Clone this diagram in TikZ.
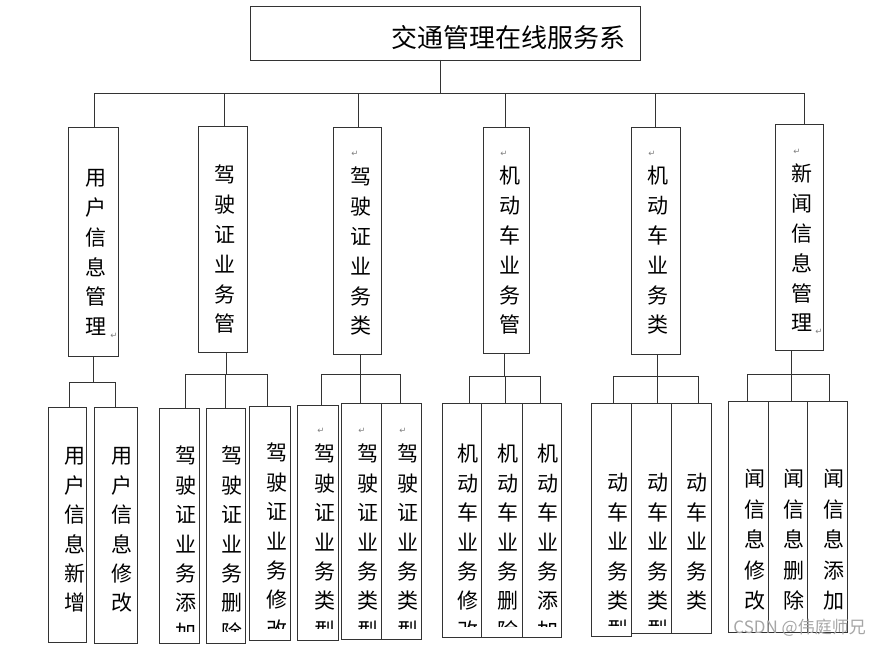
\documentclass[tikz,border=0pt]{standalone}
\usepackage{fontspec}
\newfontfamily\cjk{Noto Sans CJK SC}
\newfontfamily\djv{DejaVu Sans}
\tikzset{
 bx/.style={draw=black!80, line width=0.9pt, inner sep=0pt, outer sep=0pt},
 ch/.style={font=\cjk\fontsize{21}{21}\selectfont, inner sep=0pt, text height=0.83em, text depth=0.07em},
 ttl/.style={font=\cjk\fontsize{26}{26}\selectfont, inner sep=0pt, anchor=west},
 ret/.style={font=\djv\fontsize{8.5}{8.5}\selectfont, text=black!50, inner sep=0pt},
 ln/.style={draw=black!80, line width=0.9pt},
 wm/.style={font=\cjk\fontsize{17}{17}\selectfont, text=black!35, inner sep=0pt, anchor=east},
}
\newcommand\bx[5]{\node[bx, minimum width={#4-#2}, minimum height={#5-#3}] (#1) at ({(#2+#4)/2},{(#3+#5)/2}) {};}
\newcommand\vt[6]{%
 \begin{scope}
 \clip (0,0) rectangle (881,#6);
 \foreach \c [count=\i] in {#5} {\node[ch] (#1-\i) at (#2,{#3+(\i-1)*#4}) {\c};}
 \end{scope}}
\begin{document}
\begin{tikzpicture}[x=1pt,y=-1pt]
\useasboundingbox (0,0) rectangle (881,647);
% top
\bx{top}{250}{6}{640}{60}
\node[ttl] (title) at (391,38) {交通管理在线服务系};
% level 1 boxes
\bx{b1}{68}{127}{118}{356}
\bx{b2}{198}{126}{247}{352}
\bx{b3}{333}{127}{381}{354}
\bx{b4}{483}{127}{529}{353}
\bx{b5}{631}{127}{680}{354}
\bx{b6}{775}{124}{823}{350}
% level 2 boxes
\bx{c11}{48}{407}{86}{642}
\bx{c12}{94}{407}{137}{643}
\bx{c21}{159}{408}{199}{643}
\bx{c22}{206}{408}{245}{643}
\bx{c23}{249}{406}{290}{640}
\bx{c31}{297}{405}{338}{640}
\bx{c32}{341}{403}{381}{639}
\bx{c33}{381}{403}{421}{639}
\bx{c41}{442}{403}{481}{637}
\bx{c42}{481}{403}{522}{637}
\bx{c43}{522}{403}{561}{637}
\bx{c51}{591}{403}{631}{636}
\bx{c52}{631}{403}{671}{633}
\bx{c53}{671}{403}{711}{633}
\bx{c61}{728}{401}{768}{632}
\bx{c62}{768}{401}{807}{632}
\bx{c63}{807}{401}{847}{632}
% bus coordinates
\coordinate (g0) at (0,93);
\coordinate (g1) at (0,382);
\coordinate (g2) at (0,374);
\coordinate (g3) at (0,374);
\coordinate (g4) at (0,376);
\coordinate (g5) at (0,376);
\coordinate (g6) at (0,374);
% level 1 connectors
\draw[ln] ([xshift=-5pt]top.south) -- ([xshift=-5pt]top.south |- g0);
\draw[ln] ([xshift=1.5pt]b1.north) -- ([xshift=1.5pt]b1.north |- g0) -- ([xshift=5pt]b6.north |- g0) -- ([xshift=5pt]b6.north);
\draw[ln] ([xshift=1.5pt]b2.north) -- ([xshift=1.5pt]b2.north |- g0);
\draw[ln] ([xshift=1pt]b3.north) -- ([xshift=1pt]b3.north |- g0);
\draw[ln] ([xshift=-1pt]b4.north) -- ([xshift=-1pt]b4.north |- g0);
\draw[ln] (b5.north) -- (b5.north |- g0);
% group 1
\draw[ln] (b1.south) -- (b1.south |- g1);
\draw[ln] ([xshift=2pt]c11.north) -- ([xshift=2pt]c11.north |- g1) -- (c12.north |- g1) -- (c12.north);
% group 2
\draw[ln] ([xshift=3.5pt]b2.south) -- ([xshift=3.5pt]b2.south |- g2);
\draw[ln] ([xshift=6pt]c21.north) -- ([xshift=6pt]c21.north |- g2) -- ([xshift=-2.5pt]c23.north |- g2) -- ([xshift=-2.5pt]c23.north);
\draw[ln] (c22.north) -- (c22.north |- g2);
% group 3
\draw[ln] ([xshift=3pt]b3.south) -- ([xshift=3pt]b3.south |- g3);
\draw[ln] ([xshift=3.5pt]c31.north) -- ([xshift=3.5pt]c31.north |- g3) -- ([xshift=-1pt]c33.north |- g3) -- ([xshift=-1pt]c33.north);
\draw[ln] ([xshift=-1pt]c32.north) -- ([xshift=-1pt]c32.north |- g3);
% group 4
\draw[ln] ([xshift=-1.5pt]b4.south) -- ([xshift=-1.5pt]b4.south |- g4);
\draw[ln] ([xshift=7.5pt]c41.north) -- ([xshift=7.5pt]c41.north |- g4) -- ([xshift=-1.5pt]c43.north |- g4) -- ([xshift=-1.5pt]c43.north);
\draw[ln] ([xshift=3.5pt]c42.north) -- ([xshift=3.5pt]c42.north |- g4);
% group 5
\draw[ln] ([xshift=1.5pt]b5.south) -- ([xshift=1.5pt]b5.south |- g5);
\draw[ln] ([xshift=2pt]c51.north) -- ([xshift=2pt]c51.north |- g5) -- ([xshift=7pt]c53.north |- g5) -- ([xshift=7pt]c53.north);
\draw[ln] ([xshift=6pt]c52.north) -- ([xshift=6pt]c52.north |- g5);
% group 6
\draw[ln] ([xshift=-8pt]b6.south) -- ([xshift=-8pt]b6.south |- g6);
\draw[ln] ([xshift=-1pt]c61.north) -- ([xshift=-1pt]c61.north |- g6) -- ([xshift=2pt]c63.north |- g6) -- ([xshift=2pt]c63.north);
\draw[ln] ([xshift=3.5pt]c62.north) -- ([xshift=3.5pt]c62.north |- g6);
% level 1 texts
\vt{t1}{96}{182}{29.8}{用,户,信,息,管,理}{647}
\vt{t2}{225}{179}{29.8}{驾,驶,证,业,务,管}{647}
\vt{t3}{361}{181}{29.8}{驾,驶,证,业,务,类}{647}
\vt{t4}{510}{180}{29.8}{机,动,车,业,务,管}{647}
\vt{t5}{658}{180}{29.8}{机,动,车,业,务,类}{647}
\vt{t6}{802}{178}{29.8}{新,闻,信,息,管,理}{647}
\node[ret] (r1) at (114,336) {↵};
\node[ret] (r3) at (355,154) {↵};
\node[ret] (r4) at (504,154) {↵};
\node[ret] (r5) at (652,154) {↵};
\node[ret] (r6) at (797,152) {↵};
\node[ret] (r6b) at (819,332) {↵};
% level 2 texts
\vt{u11}{75}{460}{29.4}{用,户,信,息,新,增}{647}
\vt{u12}{122}{460}{29.4}{用,户,信,息,修,改}{647}
\vt{u21}{186}{460}{29.4}{驾,驶,证,业,务,添,加}{631}
\vt{u22}{232}{460}{29.4}{驾,驶,证,业,务,删,除}{631}
\vt{u23}{277}{457}{29.4}{驾,驶,证,业,务,修,改}{628}
\vt{u31}{325}{458}{29.4}{驾,驶,证,业,务,类,型}{628}
\vt{u32}{368}{458}{29.4}{驾,驶,证,业,务,类,型}{628}
\vt{u33}{408}{458}{29.4}{驾,驶,证,业,务,类,型}{628}
\node[ret] (r31) at (321,431) {↵};
\node[ret] (r32) at (362,431) {↵};
\node[ret] (r33) at (403,431) {↵};
\vt{u41}{468}{458}{29.4}{机,动,车,业,务,修,改}{626}
\vt{u42}{508}{458}{29.4}{机,动,车,业,务,删,除}{626}
\vt{u43}{548}{458}{29.4}{机,动,车,业,务,添,加}{626}
\vt{u51}{618}{487}{29.4}{动,车,业,务,类,型}{625}
\vt{u52}{658}{487}{29.4}{动,车,业,务,类,型}{625}
\vt{u53}{697}{487}{29.4}{动,车,业,务,类}{647}
\vt{u61}{755}{483}{30.5}{闻,信,息,修,改}{647}
\vt{u62}{794}{483}{30.5}{闻,信,息,删,除}{647}
\vt{u63}{834}{483}{30.5}{闻,信,息,添,加}{647}
% watermark
\node[wm] (wm) at (866,628) {CSDN @伟庭师兄};
\end{tikzpicture}
\end{document}
